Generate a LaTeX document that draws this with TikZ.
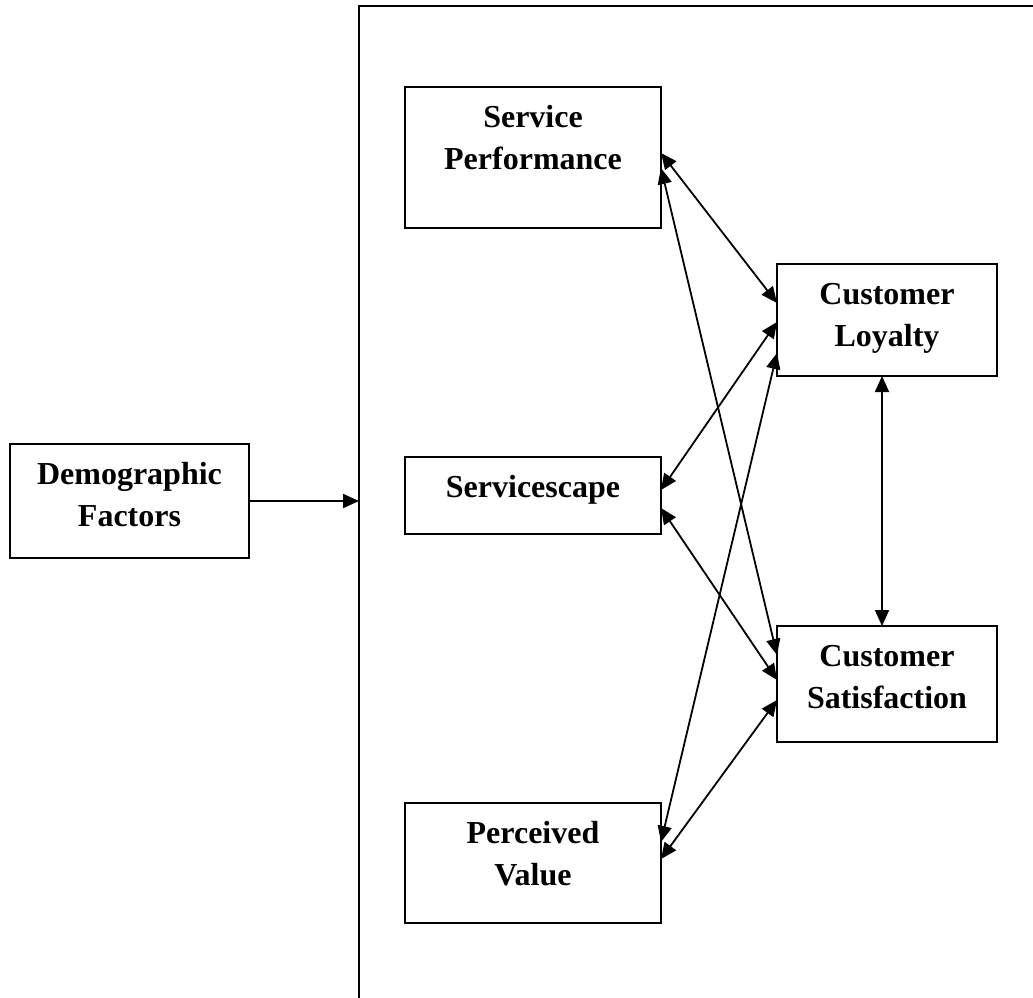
\documentclass[tikz,border=0pt]{standalone}
\usepackage{fontspec}
\setmainfont{Liberation Serif}
\usetikzlibrary{arrows.meta,positioning}

% box text set from the top, first baseline 40pt down
\newcommand{\boxlines}[3]{\parbox[c][#2][t]{#1}{\centering\rule{0pt}{40pt}#3}}

\begin{document}
\begin{tikzpicture}[
  x=1pt,y=-1pt,
  box/.style={draw,line width=2pt,inner sep=0pt,outer sep=0pt,font=\fontsize{32}{42}\selectfont\bfseries},
  link/.style={{Triangle[length=16pt,width=14pt]}-{Triangle[length=16pt,width=14pt]},line width=1.8pt},
  arrow/.style={-{Triangle[length=16pt,width=14pt]},line width=1.8pt}
]
\useasboundingbox (0,0) rectangle (1033,998);
% outer frame, runs off the page right and bottom
\node[draw,line width=2pt,outer sep=0pt,minimum width=700pt,minimum height=1010pt,anchor=north west] (model) at (359,6) {};

\node[box] (demo) at (129.5,501) {\boxlines{239pt}{114pt}{Demographic\\Factors}};
\node[box] (sp) at (533,157.5) {\boxlines{256pt}{141pt}{Service\\Performance}};
\node[box,below=229pt of sp] (serv) {\boxlines{256pt}{77pt}{Servicescape}};
\node[box,below=269pt of serv] (pv) {\boxlines{256pt}{120pt}{Perceived\\Value}};
\node[box] (loy) at (887,320) {\boxlines{220pt}{112pt}{Customer\\Loyalty}};
\node[box,below=250pt of loy] (sat) {\boxlines{220pt}{116pt}{Customer\\Satisfaction}};

\draw[arrow] (demo.east) -- (demo.east -| model.west);

\draw[link] ([yshift=4.5pt]sp.east) -- ([yshift=17pt]loy.west);
\draw[link] ([yshift=-10.5pt]sp.east) -- ([yshift=29pt]sat.west);
\draw[link] ([yshift=5.5pt]serv.east) -- ([yshift=-2pt]loy.west);
\draw[link] ([yshift=-12.5pt]serv.east) -- ([yshift=4pt]sat.west);
\draw[link] ([yshift=21pt]pv.east) -- ([yshift=-33pt]loy.west);
\draw[link] ([yshift=4pt]pv.east) -- ([yshift=-16pt]sat.west);
\draw[link] ([xshift=-5pt]loy.south) -- ([xshift=-5pt]sat.north);
\end{tikzpicture}
\end{document}
